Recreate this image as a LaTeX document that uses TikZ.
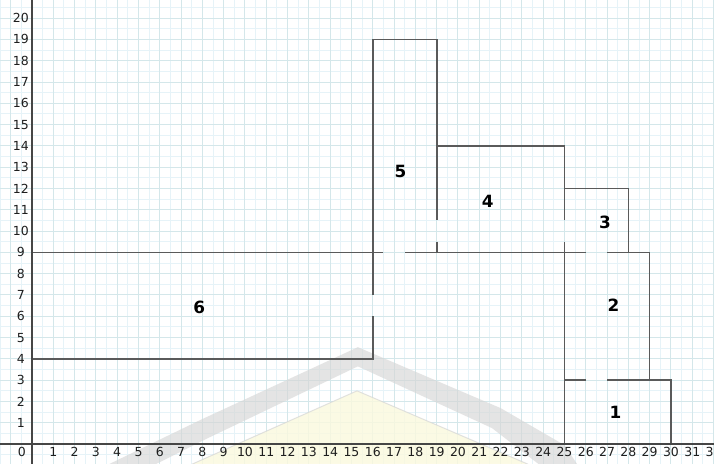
\documentclass[tikz,border=0pt]{standalone}
\usepackage{fontspec}
\setmainfont{DejaVu Sans}
\definecolor{minorc}{RGB}{230,243,248}
\definecolor{majorc}{RGB}{212,231,234}
\definecolor{wallc}{RGB}{90,90,90}
\definecolor{axisc}{RGB}{70,70,70}
\definecolor{txtc}{RGB}{30,30,30}
\definecolor{wmgray}{RGB}{214,214,214}
\definecolor{wmyellow}{RGB}{251,249,222}
\begin{document}
\begin{tikzpicture}[x=0.6cm,y=0.6cm,
  minorgrid/.style={draw=minorc,line width=0.8pt},
  majorgrid/.style={draw=majorc,line width=0.8pt},
  wall/.style={draw=wallc,line width=1.3pt},
  axisline/.style={draw=axisc,line width=1.6pt},
  axislabel/.style={text=txtc,font=\fontsize{10}{12}\selectfont,inner sep=0pt},
  roomlabel/.style={text=black,font=\bfseries\fontsize{13.5}{15}\selectfont,inner sep=0pt}]
\useasboundingbox (-1.502,-0.892) rectangle (32.02,20.85);
\clip (-1.502,-0.892) rectangle (32.02,20.85);
\fill[white] (-1.502,-0.892) rectangle (32.02,20.85);
% grid
\draw[minorgrid] (-2,-1) grid[step=0.5] (33,21);
\draw[majorgrid] (-2,-1) grid[step=1] (33,21);
% faint watermark
\fill[wmgray,opacity=0.65] (3.6,-0.95) -- (7.9,1.13) -- (15.3,4.55) -- (22,1.69) -- (25,-0.05) -- (25.6,-0.95)
  -- (23.8,-0.95) -- (21.6,0.75) -- (15.3,3.65) -- (8.3,0.3) -- (5.8,-0.95) -- cycle;
\fill[wmyellow,opacity=0.8] (7.5,-0.95) -- (15.26,2.5) -- (23.3,-0.95) -- cycle;
\draw[wmgray,opacity=0.7,line width=0.8pt] (7.5,-0.95) -- (15.26,2.5) -- (23.3,-0.95);
% room 6
\draw[wall] (0,4) -- (16,4) -- (16,6);
\draw[wall] (16,7) -- (16,9) -- (0,9) -- (0,4);
% room 5
\draw[wall] (16,9) -- (16,19) -- (19,19) -- (19,10.5);
\draw[wall] (19,9.5) -- (19,9) -- (17.5,9);
\draw[wall] (16.5,9) -- (16,9);
% room 4
\draw[wall] (19,9) -- (25,9) -- (25,9.5);
\draw[wall] (25,10.5) -- (25,14) -- (19,14);
% room 3
\draw[wall] (25,12) -- (28,12) -- (28,9) -- (27,9);
\draw[wall] (26,9) -- (25,9);
% room 2
\draw[wall] (25,9) -- (25,3) -- (26,3);
\draw[wall] (27,3) -- (29,3) -- (29,9) -- (28,9);
% room 1
\draw[wall] (25,3) -- (25,0) -- (30,0) -- (30,3) -- (27,3);
% axes
\draw[axisline] (-1.6,0) -- (32.1,0);
\draw[axisline] (0,-0.95) -- (0,20.9);
% axis labels
\node[axislabel] (x0) at (-0.48,-0.38) {0};
\foreach \i in {1,...,32} \node[axislabel] (x\i) at (\i,-0.38) {\i};
\foreach \i in {1,...,20} \node[axislabel] (y\i) at (-0.52,\i) {\i};
% room labels
\node[roomlabel] (n1) at (27.4,1.5) {1};
\node[roomlabel] (n2) at (27.3,6.5) {2};
\node[roomlabel] (n3) at (26.9,10.4) {3};
\node[roomlabel] (n4) at (21.4,11.4) {4};
\node[roomlabel] (n5) at (17.3,12.8) {5};
\node[roomlabel] (n6) at (7.85,6.4) {6};
\end{tikzpicture}
\end{document}
